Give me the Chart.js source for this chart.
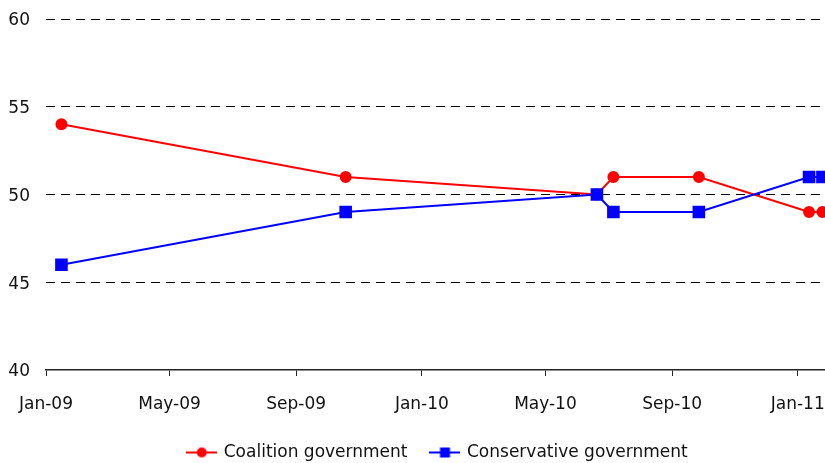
<!DOCTYPE html>
<html>
<head>
<meta charset="utf-8">
<script src="https://cdn.jsdelivr.net/npm/chart.js@4.4.0/dist/chart.umd.min.js"></script>
<style>
  html, body { margin: 0; padding: 0; background: #fff; overflow: hidden; }
  #grafico { display: block; }
</style>
</head>
<body>
<canvas id="grafico" width="894" height="471"></canvas>
<script>
// poll dates and shares
const pollDates = ['2009-01-16', '2009-10-19', '2010-06-20', '2010-07-06', '2010-09-27', '2011-01-12', '2011-01-25'];
const coalition = [54, 51, 50, 51, 51, 49, 49];
const conservative = [46, 49, 50, 49, 49, 51, 51];

// axis ticks
const tickDates = ['2009-01-01', '2009-05-01', '2009-09-01', '2010-01-01', '2010-05-01', '2010-09-01', '2011-01-01'];
const tickLabels = ['Jan-09', 'May-09', 'Sep-09', 'Jan-10', 'May-10', 'Sep-10', 'Jan-11'];
const yTicks = [40, 45, 50, 55, 60];

function dia(s) { // days since epoch
    return Date.parse(s) / 86400000;
}

function pontos(vals) {
    return vals.map((v, i) => ({ x: dia(pollDates[i]), y: v }));
}

// little line + marker used as legend symbol
function simbolo(cor, forma) {
    let c = document.createElement('canvas');
    c.width = 31; c.height = 12;
    let g = c.getContext('2d');
    g.strokeStyle = cor;
    g.fillStyle = cor;
    g.lineWidth = 2;
    g.beginPath();
    g.moveTo(0, 6); g.lineTo(31, 6);
    g.stroke();
    if (forma === 'circle') {
        g.beginPath();
        g.arc(15.5, 6, 5, 0, Math.PI * 2);
        g.fill();
    } else {
        g.fillRect(10.5, 1, 10, 10);
    }
    return c;
}

const fonte = { family: 'DejaVu Sans', size: 17 };

var ctx = document.getElementById('grafico');
var chart = new Chart(ctx, {
    type: 'line',
    data: {
        datasets: [{
            label: 'Coalition government',
            data: pontos(coalition),
            borderColor: '#ff0000',
            backgroundColor: '#ff0000',
            pointStyle: 'circle',
            pointRadius: 5,
            borderWidth: 2,
            order: 1,
            clip: false,
            simb: simbolo('#ff0000', 'circle')
        }, {
            label: 'Conservative government',
            data: pontos(conservative),
            borderColor: '#0000ff',
            backgroundColor: '#0000ff',
            pointStyle: 'rect',
            pointRadius: 7.5,
            borderWidth: 2,
            order: 0,
            clip: false,
            simb: simbolo('#0000ff', 'rect')
        }]
    },
    options: {
        responsive: false,
        animation: false,
        events: [],
        elements: {
            line: { tension: 0 },
            point: { borderWidth: 0, hoverRadius: 0 }
        },
        layout: { padding: { top: 19, right: 18, left: 0, bottom: 0 } },
        scales: {
            x: {
                type: 'linear',
                min: dia('2009-01-01'),
                max: dia('2011-03-18'),
                afterBuildTicks: (scale) => {
                    scale.ticks = tickDates.map(d => ({ value: dia(d) }));
                },
                afterFit: (scale) => { scale.height = 50; },
                grid: { drawOnChartArea: false, drawTicks: true, tickLength: 6, color: '#222' },
                border: { display: true, color: '#222', width: 1.5 },
                ticks: {
                    autoSkip: false,
                    maxRotation: 0,
                    padding: 18,
                    color: '#111',
                    font: fonte,
                    callback: (v, i) => tickLabels[i]
                }
            },
            y: {
                min: 40,
                max: 60,
                afterBuildTicks: (scale) => {
                    scale.ticks = yTicks.map(v => ({ value: v }));
                },
                afterFit: (scale) => {
                    scale.width = 46;
                    scale.paddingTop = 0;
                    scale.paddingBottom = 0;
                },
                grid: {
                    drawTicks: false,
                    color: (c) => c.tick && c.tick.value === 40 ? 'rgba(0,0,0,0)' : '#000',
                    lineWidth: 1
                },
                border: { display: false, dash: [9, 6] },
                ticks: { padding: 16, labelOffset: 2, color: '#111', font: fonte }
            }
        },
        plugins: {
            tooltip: { enabled: false },
            legend: {
                position: 'bottom',
                labels: {
                    usePointStyle: true,
                    pointStyleWidth: 27,
                    padding: 24,
                    color: '#111',
                    font: fonte,
                    generateLabels: (ch) => ch.data.datasets.map((ds, i) => ({
                        text: ds.label,
                        pointStyle: ds.simb,
                        fillStyle: ds.borderColor,
                        strokeStyle: ds.borderColor,
                        lineWidth: 0,
                        fontColor: '#111',
                        datasetIndex: i,
                        hidden: false
                    }))
                }
            }
        }
    }
});
</script>
</body>
</html>
